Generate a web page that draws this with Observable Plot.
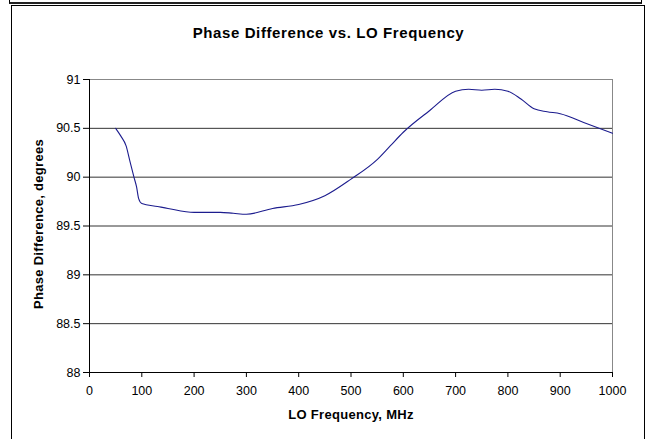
<!DOCTYPE html>
<html><head><meta charset="utf-8">
<script src="https://cdn.jsdelivr.net/npm/d3@7"></script>
<script src="https://cdn.jsdelivr.net/npm/@observablehq/plot@0.6"></script>
<style>
body{margin:0;background:#fff;}
#wrap{position:relative;width:645px;height:439px;overflow:hidden;font-family:"Liberation Sans",Arial,sans-serif;}
#strip{position:absolute;left:9px;top:-2px;width:631px;height:3px;border:1px solid #000;border-bottom:2px solid #222;}
#box{position:absolute;left:11px;top:5px;width:632px;height:440px;border:1px solid #000;}
#chart{position:absolute;left:0;top:0;}
#chart svg{font-family:"Liberation Sans",Arial,sans-serif;}
.ttl text{letter-spacing:0.6px;}
.alab text{letter-spacing:0.3px;}
</style></head><body>
<div id="wrap"><div id="strip"></div><div id="box"></div><div id="chart"></div></div>
<script>
const titleText = "Phase Difference vs. LO Frequency";
const xLabel = "LO Frequency, MHz";
const yLabel = "Phase Difference, degrees";
const freq  = [50, 60, 70, 77, 85, 90, 94, 100, 130, 150, 200, 250, 275, 300, 350, 400, 450, 500, 550, 575, 600, 650, 700, 725, 750, 775, 800, 825, 850, 875, 900, 950, 1000];
const phase = [90.50, 90.42, 90.32, 90.17, 90.00, 89.90, 89.78, 89.73, 89.70, 89.68, 89.64, 89.64, 89.63, 89.62, 89.68, 89.72, 89.81, 89.98, 90.18, 90.32, 90.46, 90.68, 90.88, 90.90, 90.89, 90.90, 90.88, 90.80, 90.70, 90.67, 90.65, 90.55, 90.45];
const xTicks = [0, 100, 200, 300, 400, 500, 600, 700, 800, 900, 1000];
const yTicks = [88, 88.5, 89, 89.5, 90, 90.5, 91];
const innerGrid = [88.5, 89, 89.5, 90, 90.5];

const data = freq.map((f, i) => ({f, p: phase[i]}));

const chart = Plot.plot({
  width: 645,
  height: 439,
  marginLeft: 89,
  marginRight: 33,
  marginTop: 79,
  marginBottom: 67,
  style: {fontFamily: '"Liberation Sans", Arial, sans-serif', background: "transparent"},
  x: {domain: [0, 1000]},
  y: {domain: [88, 91]},
  marks: [
    Plot.ruleY(innerGrid, {stroke: "#333"}),
    Plot.ruleY([91], {stroke: "#888"}),
    Plot.ruleX([1000], {stroke: "#888"}),
    Plot.ruleX([0], {stroke: "#000"}),
    Plot.ruleY([88], {stroke: "#000"}),
    Plot.axisX({ticks: xTicks, tickSize: 5, tickPadding: 9, fontSize: 12.5, label: null, tickFormat: d => String(d), fill: "#000"}),
    Plot.axisY({ticks: yTicks, tickSize: 6, tickPadding: 3, fontSize: 12.5, label: null, tickFormat: d => String(d), fill: "#000"}),
    Plot.line(data, {x: "f", y: "p", stroke: "#1c1c8e", strokeWidth: 1.1, curve: "monotone-x"}),
    Plot.text([titleText], {className: "ttl", frameAnchor: "top", lineAnchor: "middle", dx: -22.5, dy: -46.5, fontSize: 15, fontWeight: "bold", fill: "#000"}),
    Plot.text([xLabel], {className: "alab", frameAnchor: "bottom", lineAnchor: "middle", dy: 42.5, fontSize: 13, fontWeight: "bold", fill: "#000"}),
    Plot.text([yLabel], {className: "alab", frameAnchor: "left", textAnchor: "middle", lineAnchor: "middle", rotate: -90, dx: -51, dy: -2, fontSize: 13, fontWeight: "bold", fill: "#000"})
  ]
});
document.getElementById("chart").appendChild(chart);
</script>
</body></html>
